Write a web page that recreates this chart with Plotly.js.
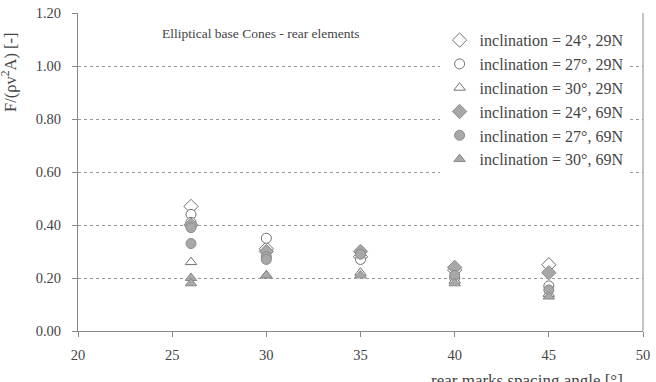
<!DOCTYPE html>
<html>
<head>
<meta charset="utf-8">
<script src="https://cdn.plot.ly/plotly-3.0.1.min.js"></script>
<style>html,body{margin:0;padding:0;background:#fff;}#chart{width:656px;height:382px;}</style>
</head>
<body>
<div id="chart"></div>
<script>
// Data
const seriesNames = [
  "inclination = 24°, 29N",
  "inclination = 27°, 29N",
  "inclination = 30°, 29N",
  "inclination = 24°, 69N",
  "inclination = 27°, 69N",
  "inclination = 30°, 69N"
];
const x24_29 = [26, 30, 35, 40, 45];
const y24_29 = [0.47, 0.31, 0.28, 0.23, 0.25];
const x27_29 = [26, 26, 30, 35, 40, 45];
const y27_29 = [0.44, 0.41, 0.35, 0.27, 0.20, 0.17];
const x30_29 = [26, 30, 35, 40, 45];
const y30_29 = [0.26, 0.21, 0.22, 0.19, 0.14];
const x24_69 = [26, 30, 35, 40, 45];
const y24_69 = [0.40, 0.30, 0.30, 0.24, 0.22];
const x27_69 = [26, 26, 30, 30, 35, 40, 45];
const y27_69 = [0.39, 0.33, 0.28, 0.27, 0.29, 0.21, 0.155];
const x30_69 = [26, 26, 30, 35, 40, 45];
const y30_69 = [0.20, 0.18, 0.21, 0.21, 0.18, 0.13];

const serif = '"Liberation Serif", "Times New Roman", serif';
const openLine = {color: "#707070", width: 1};
const fillLine = {color: "#8a8a8a", width: 1};

function tr(name, xs, ys, symbol, filled) {
  return {
    type: "scatter", mode: "markers", name: name, x: xs, y: ys,
    marker: {
      symbol: symbol, size: symbol.indexOf("diamond") === 0 ? 11 : 10,
      color: filled ? "#a8a8a8" : "#ffffff",
      line: filled ? fillLine : openLine
    }
  };
}

const data = [
  tr(seriesNames[0], x24_29, y24_29, "diamond", false),
  tr(seriesNames[1], x27_29, y27_29, "circle", false),
  tr(seriesNames[2], x30_29, y30_29, "triangle-up", false),
  tr(seriesNames[3], x24_69, y24_69, "diamond", true),
  tr(seriesNames[4], x27_69, y27_69, "circle", true),
  tr(seriesNames[5], x30_69, y30_69, "triangle-up", true)
];

const layout = {
  width: 656, height: 382,
  margin: {l: 78, r: 13, t: 13, b: 51},
  paper_bgcolor: "#fff", plot_bgcolor: "#fff",
  font: {family: serif, size: 14, color: "#444"},
  showlegend: true,
  legend: {
    x: 0.64, y: 0.968, xanchor: "left", yanchor: "top",
    bgcolor: "#fff", borderwidth: 0,
    font: {family: serif, size: 16, color: "#444"},
    tracegroupgap: 0, itemwidth: 30
  },
  xaxis: {
    range: [20, 50], dtick: 5, tick0: 20,
    showgrid: false, zeroline: false,
    showline: true, linecolor: "#888", linewidth: 1, mirror: false,
    ticks: "outside", ticklen: 5, tickcolor: "#888",
    ticklabelstandoff: 6,
    tickfont: {family: serif, size: 14.5, color: "#444"}
  },
  yaxis: {
    range: [0, 1.2], dtick: 0.2, tick0: 0, tickformat: ".2f",
    showgrid: true, gridcolor: "#999", griddash: "dot", gridwidth: 1,
    zeroline: false,
    showline: true, linecolor: "#888", linewidth: 1, mirror: false,
    ticks: "outside", ticklen: 5, tickcolor: "#888",
    ticklabelstandoff: 8,
    tickfont: {family: serif, size: 14.5, color: "#444"}
  },
  shapes: [
    {type: "line", xref: "paper", yref: "paper", x0: 1, x1: 1, y0: 0, y1: 1,
     line: {color: "#888", width: 1}}
  ],
  annotations: [
    {text: "Elliptical base Cones - rear elements", xref: "paper", yref: "paper",
     x: 0.145, y: 0.966, xanchor: "left", yanchor: "top", showarrow: false,
     font: {family: serif, size: 13.5, color: "#444"}},
    {text: "F/(ρv<sup>2</sup>A) [-]", xref: "paper", yref: "paper",
     x: -0.12, y: 0.815, xanchor: "center", yanchor: "middle", textangle: -90,
     showarrow: false, font: {family: serif, size: 16.5, color: "#444"}},
    {text: "rear marks spacing angle [°]", xref: "paper", yref: "paper",
     x: 0.795, y: -0.118, xanchor: "center", yanchor: "top",
     showarrow: false, font: {family: serif, size: 17, color: "#444"}}
  ]
};

Plotly.newPlot("chart", data, layout, {displayModeBar: false, staticPlot: true});
</script>
</body>
</html>
